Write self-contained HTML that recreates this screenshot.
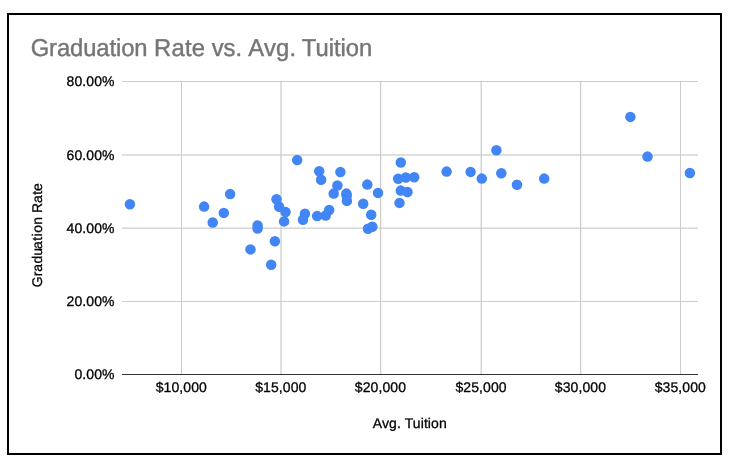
<!DOCTYPE html>
<html lang="en">
<head>
<meta charset="utf-8">
<title>Graduation Rate vs. Avg. Tuition</title>
<style>
html,body{margin:0;padding:0;background:#fff;}
body{width:746px;height:471px;overflow:hidden;position:relative;font-family:"Liberation Sans",Arial,sans-serif;}
#frame{position:absolute;left:7px;top:13px;width:711px;height:438px;border:2px solid #000;background:#fff;}
svg{position:absolute;left:0;top:0;display:block;will-change:transform;}
svg text{font-family:"Liberation Sans",Arial,sans-serif;text-rendering:geometricPrecision;}
.t{font-size:23.8px;fill:#757575;stroke:#757575;stroke-width:0.4px;}
.a{font-size:14px;fill:#000;stroke:#000;stroke-width:0.3px;}
</style>
</head>
<body>
<div id="frame"></div>
<svg width="746" height="471" viewBox="0 0 746 471">
<g transform="translate(0 55.75) scale(1 1.025)"><text class="t" y="0"><tspan x="30.7" textLength="116.9" lengthAdjust="spacing">Graduation</tspan> <tspan x="154.1" textLength="50.97" lengthAdjust="spacing">Rate</tspan> <tspan x="211.7">vs.</tspan> <tspan x="248.3" textLength="47.8" lengthAdjust="spacing">Avg.</tspan> <tspan x="301.8">Tuition</tspan></text></g>
<g fill="#cccccc">
<rect x="122" y="81.000" width="576" height="1"/>
<rect x="122" y="154.375" width="576" height="1.25"/>
<rect x="122" y="227.525" width="576" height="1.25"/>
<rect x="122" y="300.950" width="576" height="1"/>
<rect x="181.000" y="81" width="1" height="293"/>
<rect x="280.375" y="81" width="1.25" height="293"/>
<rect x="379.975" y="81" width="1.25" height="293"/>
<rect x="480.575" y="81" width="1.25" height="293"/>
<rect x="579.975" y="81" width="1.25" height="293"/>
<rect x="680.000" y="81" width="1" height="293"/>
</g>
<rect x="122" y="374" width="576" height="1" fill="#333333"/>
<g class="a" text-anchor="end">
<text x="114.5" y="86.30" textLength="47.88" lengthAdjust="spacing">80.00%</text>
<text x="114.5" y="159.80" textLength="47.88" lengthAdjust="spacing">60.00%</text>
<text x="114.5" y="232.95" textLength="47.88" lengthAdjust="spacing">40.00%</text>
<text x="114.5" y="306.25" textLength="47.88" lengthAdjust="spacing">20.00%</text>
<text x="114.5" y="379.30" textLength="40.05" lengthAdjust="spacing">0.00%</text>
</g>
<g class="a" text-anchor="middle">
<text x="181.3" y="392.35" textLength="51.1" lengthAdjust="spacing">$10,000</text>
<text x="280.8" y="392.35" textLength="51.1" lengthAdjust="spacing">$15,000</text>
<text x="380.4" y="392.35" textLength="51.1" lengthAdjust="spacing">$20,000</text>
<text x="481.0" y="392.35" textLength="51.1" lengthAdjust="spacing">$25,000</text>
<text x="580.4" y="392.35" textLength="51.1" lengthAdjust="spacing">$30,000</text>
<text x="680.3" y="392.35" textLength="51.1" lengthAdjust="spacing">$35,000</text>
<text x="409.8" y="427.8" textLength="73.9" lengthAdjust="spacing">Avg. Tuition</text>
<text text-anchor="start" transform="translate(41.6 290) rotate(-90)" x="2.7 13.7 18.3 26.55 34.2 41.1 49.2 53.5 57.15 65.15 72.94 76.95 87.05 95.15 99.1">Graduation Rate</text>
</g>
<g fill="#4285f4">
<circle cx="129.9" cy="204.2" r="5.25"/>
<circle cx="204.1" cy="206.6" r="5.25"/>
<circle cx="230.1" cy="194.1" r="5.25"/>
<circle cx="223.8" cy="212.9" r="5.25"/>
<circle cx="212.7" cy="222.5" r="5.25"/>
<circle cx="257.6" cy="225.5" r="5.25"/>
<circle cx="257.6" cy="228.6" r="5.25"/>
<circle cx="250.5" cy="249.4" r="5.25"/>
<circle cx="274.9" cy="241.2" r="5.25"/>
<circle cx="271.2" cy="264.8" r="5.25"/>
<circle cx="284.1" cy="221.4" r="5.25"/>
<circle cx="285.6" cy="212.1" r="5.25"/>
<circle cx="279.1" cy="206.7" r="5.25"/>
<circle cx="276.5" cy="199.2" r="5.25"/>
<circle cx="304.9" cy="213.8" r="5.25"/>
<circle cx="303.0" cy="219.7" r="5.25"/>
<circle cx="317.1" cy="216.1" r="5.25"/>
<circle cx="325.7" cy="215.5" r="5.25"/>
<circle cx="329.2" cy="210.0" r="5.25"/>
<circle cx="297.2" cy="160.1" r="5.25"/>
<circle cx="319.2" cy="171.2" r="5.25"/>
<circle cx="321.1" cy="179.8" r="5.25"/>
<circle cx="340.4" cy="172.1" r="5.25"/>
<circle cx="337.4" cy="185.5" r="5.25"/>
<circle cx="333.7" cy="193.6" r="5.25"/>
<circle cx="346.4" cy="193.6" r="5.25"/>
<circle cx="346.7" cy="195.8" r="5.25"/>
<circle cx="346.9" cy="200.9" r="5.25"/>
<circle cx="367.3" cy="184.6" r="5.25"/>
<circle cx="363.2" cy="203.7" r="5.25"/>
<circle cx="378.0" cy="192.9" r="5.25"/>
<circle cx="371.2" cy="214.7" r="5.25"/>
<circle cx="372.3" cy="226.8" r="5.25"/>
<circle cx="368.0" cy="228.8" r="5.25"/>
<circle cx="400.8" cy="162.5" r="5.25"/>
<circle cx="398.2" cy="178.8" r="5.25"/>
<circle cx="405.8" cy="177.5" r="5.25"/>
<circle cx="414.2" cy="177.2" r="5.25"/>
<circle cx="400.8" cy="190.6" r="5.25"/>
<circle cx="407.5" cy="192.0" r="5.25"/>
<circle cx="399.5" cy="202.9" r="5.25"/>
<circle cx="446.6" cy="171.6" r="5.25"/>
<circle cx="470.6" cy="171.9" r="5.25"/>
<circle cx="481.8" cy="178.6" r="5.25"/>
<circle cx="496.4" cy="150.3" r="5.25"/>
<circle cx="501.3" cy="173.3" r="5.25"/>
<circle cx="517.0" cy="184.8" r="5.25"/>
<circle cx="544.2" cy="178.6" r="5.25"/>
<circle cx="630.4" cy="116.9" r="5.25"/>
<circle cx="647.5" cy="156.6" r="5.25"/>
<circle cx="689.9" cy="173.0" r="5.25"/>
</g>
</svg>
</body>
</html>
